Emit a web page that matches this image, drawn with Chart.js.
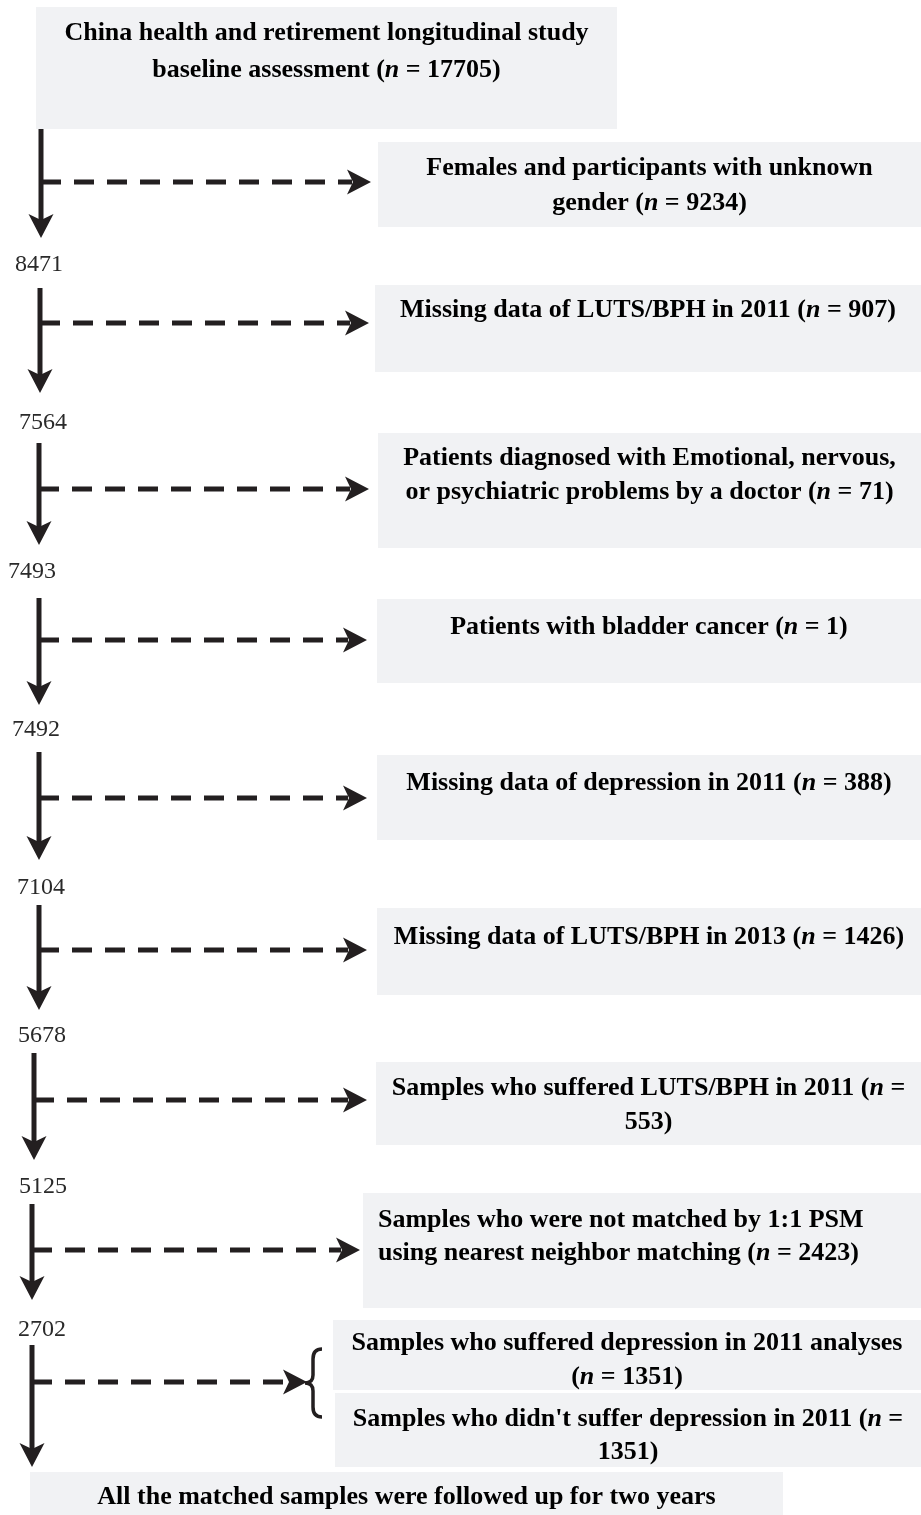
<!DOCTYPE html>
<html>
<head>
<meta charset="utf-8">
<title>CHARLS flowchart</title>
<script src="https://cdn.jsdelivr.net/npm/chart.js@4.4.1/dist/chart.umd.min.js"></script>
<style>
  html, body { margin: 0; padding: 0; background: #fff; }
  canvas { display: block; }
</style>
</head>
<body>
<canvas id="fluxo" width="921" height="1515"></canvas>
<script>
// sample sizes
const baselineN = 17705;
const remaining = [8471, 7564, 7493, 7492, 7104, 5678, 5125, 2702];
const excludedN = [9234, 907, 71, 1, 388, 1426, 553, 2423];
const groupN = [1351, 1351];

// box texts, *n* is drawn in italic, {n} gets the count
const baselineText = ['China health and retirement longitudinal study', 'baseline assessment (*n* = {n})'];
const excludedText = [
    ['Females and participants with unknown', 'gender (*n* = {n})'],
    ['Missing data of LUTS/BPH in 2011 (*n* = {n})'],
    ['Patients diagnosed with Emotional, nervous,', 'or psychiatric problems by a doctor (*n* = {n})'],
    ['Patients with bladder cancer (*n* = {n})'],
    ['Missing data of depression in 2011 (*n* = {n})'],
    ['Missing data of LUTS/BPH in 2013 (*n* = {n})'],
    ['Samples who suffered LUTS/BPH in 2011 (*n* =', '{n})'],
    ['Samples who were not matched by 1:1 PSM', 'using nearest neighbor matching (*n* = {n})']
];
const groupText = [
    ['Samples who suffered depression in 2011 analyses', '(*n* = {n})'],
    ["Samples who didn't suffer depression in 2011 (*n* =", '{n})']
];
const followUpText = 'All the matched samples were followed up for two years';

// layout, in axis units (x 0..921, y 0..1515 top-down)
const topBox = { box: [36, 7, 617, 129], textY: [33, 70] };
const steps = [
    { x: 41, y0: 129, y1: 238, dashY: 182, tip: 371, box: [378, 142, 921, 227], textY: [168, 203], labelX: 15, labelY: 265 },
    { x: 40, y0: 288, y1: 393, dashY: 323, tip: 369, box: [375, 285, 921, 372], textY: [310], labelX: 19, labelY: 423 },
    { x: 39, y0: 443, y1: 545, dashY: 489, tip: 369, box: [378, 433, 921, 548], textY: [458, 492], labelX: 8, labelY: 572 },
    { x: 39, y0: 598, y1: 705, dashY: 640, tip: 367, box: [377, 599, 921, 683], textY: [627], labelX: 12, labelY: 730 },
    { x: 39, y0: 752, y1: 860, dashY: 798, tip: 367, box: [377, 755, 921, 840], textY: [783], labelX: 17, labelY: 888 },
    { x: 39, y0: 905, y1: 1010, dashY: 950, tip: 367, box: [377, 908, 921, 995], textY: [937], labelX: 18, labelY: 1036 },
    { x: 34, y0: 1053, y1: 1160, dashY: 1100, tip: 367, box: [376, 1062, 921, 1145], textY: [1088, 1122], labelX: 19, labelY: 1187 },
    { x: 32, y0: 1204, y1: 1300, dashY: 1250, tip: 360, box: [363, 1193, 921, 1308], textY: [1220, 1253], labelX: 18, labelY: 1330, left: 378 }
];
const lastStep = { x: 32, y0: 1345, y1: 1467, dashY: 1382, tip: 307 };
const brace = { x: 305, arm: 322, top: 1349, bottom: 1417 };
const groupBoxes = [
    { box: [333, 1320, 921, 1390], textY: [1343, 1377] },
    { box: [335, 1393, 921, 1467], textY: [1419, 1452] }
];
const bottomBox = { box: [30, 1472, 783, 1515], textY: [1497] };

const INK = '#231f20';
const FILL = '#f1f2f4';
const FS = 26;

const flowchartPlugin = {
    id: 'flowchart',
    afterDraw(chart) {
        const ctx = chart.ctx;
        const X = v => chart.scales.x.getPixelForValue(v);
        const Y = v => chart.scales.y.getPixelForValue(v);

        function drawBox(b) {
            ctx.fillStyle = FILL;
            ctx.fillRect(X(b[0]), Y(b[1]), X(b[2]) - X(b[0]), Y(b[3]) - Y(b[1]));
        }

        function richLine(str, x, y, left) {
            const parts = str.split('*');
            const font = i => (i % 2 ? 'italic bold ' : 'bold ') + FS + 'px "Liberation Serif"';
            let w = 0;
            parts.forEach((p, i) => { ctx.font = font(i); w += ctx.measureText(p).width; });
            let cx = left ? x : x - w / 2;
            ctx.fillStyle = '#000';
            ctx.textAlign = 'left';
            ctx.textBaseline = 'middle';
            parts.forEach((p, i) => {
                ctx.font = font(i);
                ctx.fillText(p, cx, y);
                cx += ctx.measureText(p).width;
            });
        }

        function boxText(lines, n, b, ys, leftX) {
            const cx = leftX !== undefined ? X(leftX) : (X(b[0]) + X(b[2])) / 2;
            lines.forEach((l, i) => richLine(l.replace('{n}', n), cx, Y(ys[i]), leftX !== undefined));
        }

        function stealth(tx, ty, dir) {
            const L = 24, H = 12.5, N = 6;
            ctx.beginPath();
            if (dir === 'down') {
                ctx.moveTo(tx, ty);
                ctx.lineTo(tx - H, ty - L);
                ctx.lineTo(tx, ty - L + N);
                ctx.lineTo(tx + H, ty - L);
            } else {
                ctx.moveTo(tx, ty);
                ctx.lineTo(tx - L, ty - H);
                ctx.lineTo(tx - L + N, ty);
                ctx.lineTo(tx - L, ty + H);
            }
            ctx.closePath();
            ctx.fillStyle = INK;
            ctx.fill();
        }

        function arrows(s) {
            const x = X(s.x);
            ctx.save();
            ctx.strokeStyle = INK;
            ctx.lineWidth = 5;
            ctx.lineCap = 'butt';
            ctx.beginPath();
            ctx.moveTo(x, Y(s.y0));
            ctx.lineTo(x, Y(s.y1) - 12);
            ctx.stroke();
            stealth(x, Y(s.y1), 'down');
            ctx.setLineDash([20, 13]);
            ctx.beginPath();
            ctx.moveTo(x, Y(s.dashY));
            ctx.lineTo(X(s.tip) - 19, Y(s.dashY));
            ctx.stroke();
            ctx.setLineDash([]);
            stealth(X(s.tip), Y(s.dashY), 'right');
            ctx.restore();
        }

        function countLabel(v, x, y) {
            ctx.font = '24px "Liberation Serif"';
            ctx.fillStyle = '#2a2a2a';
            ctx.textAlign = 'left';
            ctx.textBaseline = 'middle';
            ctx.fillText(String(v), X(x), Y(y));
        }

        // top box
        drawBox(topBox.box);
        boxText(baselineText, baselineN, topBox.box, topBox.textY);

        steps.forEach((s, i) => {
            drawBox(s.box);
            boxText(excludedText[i], excludedN[i], s.box, s.textY, s.left);
            arrows(s);
            countLabel(remaining[i], s.labelX, s.labelY);
        });

        // split into the two groups
        groupBoxes.forEach((g, i) => {
            drawBox(g.box);
            boxText(groupText[i], groupN[i], g.box, g.textY);
        });
        drawBox(bottomBox.box);
        richLine(followUpText, (X(bottomBox.box[0]) + X(bottomBox.box[2])) / 2, Y(bottomBox.textY[0]));
        arrows(lastStep);

        // curly brace
        ctx.save();
        ctx.strokeStyle = INK;
        ctx.lineWidth = 3.5;
        const mid = (brace.top + brace.bottom) / 2;
        const bx = X(brace.x + 8);
        ctx.beginPath();
        ctx.moveTo(X(brace.arm), Y(brace.top));
        ctx.quadraticCurveTo(bx, Y(brace.top), bx, Y(brace.top + 10));
        ctx.lineTo(bx, Y(mid - 8));
        ctx.quadraticCurveTo(bx, Y(mid), X(brace.x), Y(mid));
        ctx.quadraticCurveTo(bx, Y(mid), bx, Y(mid + 8));
        ctx.lineTo(bx, Y(brace.bottom - 10));
        ctx.quadraticCurveTo(bx, Y(brace.bottom), X(brace.arm), Y(brace.bottom));
        ctx.stroke();
        ctx.restore();
    }
};

document.addEventListener('DOMContentLoaded', function () {
    const ctx = document.getElementById('fluxo');
    new Chart(ctx, {
        type: 'scatter',
        data: { datasets: [{ data: [] }] },
        options: {
            responsive: false,
            animation: false,
            devicePixelRatio: 1,
            layout: { padding: 0 },
            plugins: { legend: { display: false }, tooltip: { enabled: false } },
            scales: {
                x: { type: 'linear', min: 0, max: 921, display: false },
                y: { type: 'linear', min: 0, max: 1515, reverse: true, display: false }
            }
        },
        plugins: [flowchartPlugin]
    });
});
</script>
</body>
</html>
